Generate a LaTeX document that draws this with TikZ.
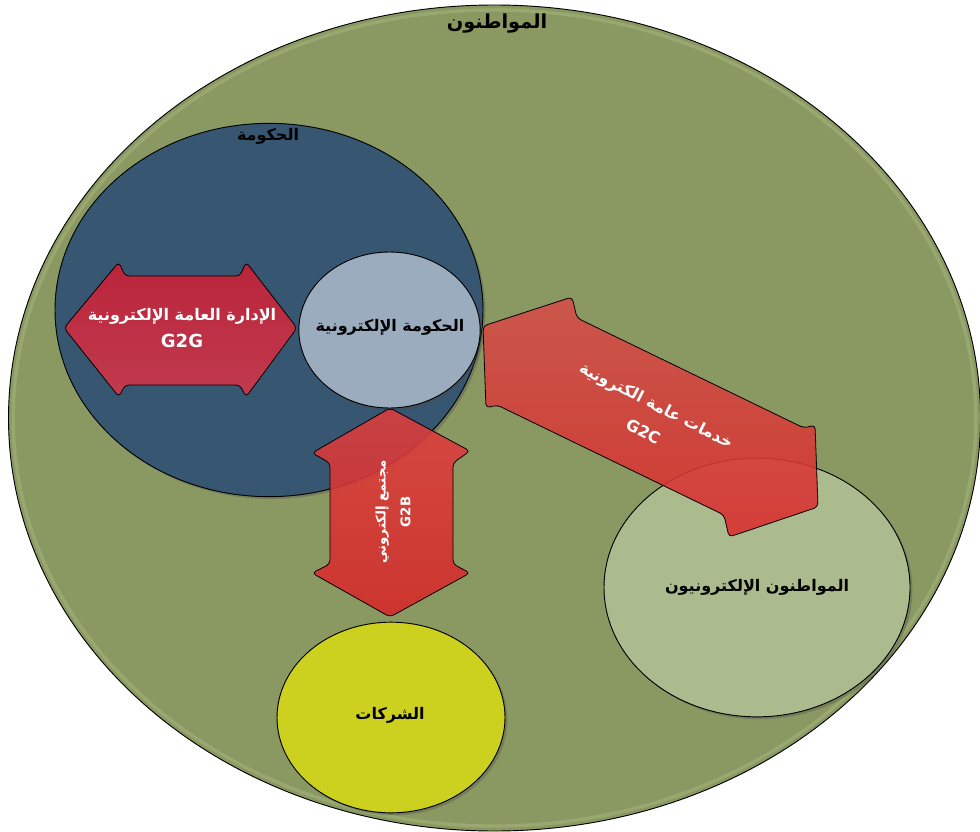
\documentclass[tikz,border=0pt]{standalone}
\usepackage{fontspec}
\usetikzlibrary{shapes.geometric,shadows}
\newfontfamily\arabicfont[Script=Arabic]{DejaVu Sans}
\TeXXeTstate=1
\definecolor{bigfill}{RGB}{138,153,98}
\definecolor{bighl}{RGB}{160,175,120}
\definecolor{govfill}{RGB}{55,86,114}
\definecolor{egovfill}{RGB}{155,172,190}
\definecolor{compfill}{RGB}{204,208,30}
\definecolor{ecitfill}{RGB}{172,187,142}
\definecolor{redA}{RGB}{205,30,50}
\definecolor{redB}{RGB}{212,55,75}
\definecolor{redC}{RGB}{222,62,62}
\definecolor{redD}{RGB}{214,40,40}
\definecolor{redE}{RGB}{212,78,72}
\definecolor{redF}{RGB}{218,45,45}
\begin{document}
\begin{tikzpicture}[x=0.75pt,y=-0.75pt,
  ar/.style={font=\arabicfont\bfseries\fontsize{12}{20}\selectfont, text=black, inner sep=0pt},
  arw/.style={ar, text=white, align=center},
  blob/.style={ellipse, draw=black, line width=0.7pt, inner sep=0pt},
  shad/.style={drop shadow={shadow xshift=1.8pt, shadow yshift=-1.8pt, opacity=0.35, fill=black!70}},
  arrowbody/.style={draw=black, line width=0.6pt, rounded corners=3pt, fill opacity=0.88}
]
\useasboundingbox (0,0) rectangle (980,831);
\clip (0,0) rectangle (980,831);

% outer ellipse: citizens
\node[blob, fill=bigfill, minimum width=729pt, minimum height=619.5pt] (citizens) at (494.5,418) {};
\node[ellipse, draw=bighl, line width=2.5pt, draw opacity=0.7, minimum width=722pt, minimum height=612pt] (citizenshl) at (494.5,418) {};
\node[ar, font=\arabicfont\bfseries\fontsize{14.5}{18}\selectfont] (citizenslbl) at (497,24) {\beginR المواطنون\endR};

% government
\node[blob, shad, fill=govfill, minimum width=321pt, minimum height=280pt] (gov) at (269,310) {};
\node[ar] (govlbl) at (268,136) {\beginR الحكومة\endR};

% e-government
\node[blob, shad, fill=egovfill, minimum width=136pt, minimum height=117pt] (egov) at (389.5,330) {};
\node[ar] (egovlbl) at (390,327) {\beginR الحكومة الإلكترونية\endR};

% companies
\node[blob, shad, fill=compfill, minimum width=171pt, minimum height=143pt] (comp) at (391,717.5) {};
\node[ar] (complbl) at (390,715) {\beginR الشركات\endR};

% e-citizens
\node[blob, shad, fill=ecitfill, minimum width=229.5pt, minimum height=194pt] (ecit) at (757,587.5) {};
\node[ar] (ecitlbl) at (757,587) {\beginR المواطنون الإلكترونيون\endR};

% G2G arrow
\draw[arrowbody, top color=redA, bottom color=redB]
  (64,328) -- (119,262) -- (125,276) -- (240,276) -- (246,262) -- (297,328)
  -- (246,397) -- (240,385) -- (125,385) -- (119,397) -- cycle;
\node[arw] (g2g) at (182,328) {\beginR الإدارة العامة الإلكترونية\endR\\{\fontsize{13.5}{20}\selectfont G2G}};

% G2B arrow
\draw[arrowbody, top color=redC, bottom color=redD]
  (390,408) -- (470,451) -- (453,463) -- (453,564) -- (470,573) -- (390,617)
  -- (312,573) -- (330,564) -- (330,463) -- (312,453) -- cycle;
\node[arw, rotate=90, font=\arabicfont\bfseries\fontsize{10}{18.5}\selectfont] (g2b) at (393,512) {\beginR مجتمع إلكتروني\endR\\G2B};

% G2C arrow
\draw[arrowbody, top color=redE, bottom color=redF]
  (483,326) -- (572,297) -- (577,318) -- (804,428) -- (815,425) -- (818,507)
  -- (729,537) -- (724,515) -- (497,405) -- (486,408) -- cycle;
\node[arw, rotate=-27, font=\arabicfont\bfseries\fontsize{12}{22}\selectfont] (g2c) at (650,418) {\beginR خدمات عامة الكترونية\endR\\G2C};
\end{tikzpicture}
\end{document}
